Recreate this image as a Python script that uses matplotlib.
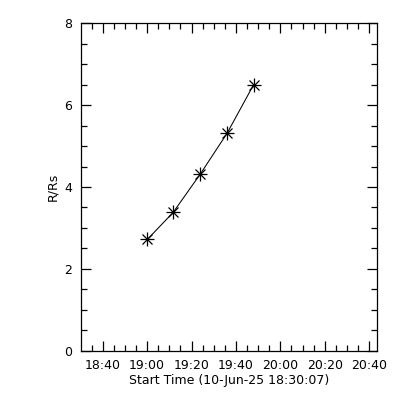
import matplotlib
matplotlib.use("Agg")
import matplotlib.pyplot as plt
from matplotlib.ticker import FixedLocator, MultipleLocator

# Data: seconds since start time 18:30:07
start_label = "Start Time (10-Jun-25 18:30:07)"
start_sec = 18 * 3600 + 30 * 60 + 7
times = ["19:00:07", "19:11:43", "19:23:52", "19:35:59", "19:47:59"]
heights = [2.72, 3.38, 4.31, 5.31, 6.50]
tick_labels = ["18:40", "19:00", "19:20", "19:40", "20:00", "20:20", "20:40"]


def to_sec(s):
    parts = [int(p) for p in s.split(":")]
    while len(parts) < 3:
        parts.append(0)
    return parts[0] * 3600 + parts[1] * 60 + parts[2] - start_sec


x = [to_sec(t) for t in times]
major = [to_sec(t) for t in tick_labels]
minor = [to_sec("18:35") + 300 * i for i in range(0, 27)]

plt.rcParams["font.family"] = "DejaVu Sans"
fig = plt.figure(figsize=(4, 4), dpi=100)
ax = fig.add_axes([0.202, 0.123, 0.740, 0.819])

ax.plot(x, heights, color="black", lw=0.75)
ax.plot(x, heights, ls="none", marker="x", ms=7, mew=0.9, color="black")
ax.plot(x, heights, ls="none", marker="+", ms=10, mew=0.9, color="black")

ax.set_xlim(0, 8000)
ax.set_ylim(0, 8)
ax.xaxis.set_major_locator(FixedLocator(major))
ax.set_xticklabels(tick_labels)
ax.xaxis.set_minor_locator(FixedLocator([m for m in minor if m not in major]))
ax.yaxis.set_major_locator(MultipleLocator(2))
ax.yaxis.set_minor_locator(MultipleLocator(0.5))

ax.tick_params(which="both", direction="in", top=True, right=True,
               width=0.9, labelsize=9, colors="black")
ax.tick_params(which="major", length=7, pad=6)
ax.tick_params(which="minor", length=4)
for s in ax.spines.values():
    s.set_linewidth(0.9)

ax.set_xlabel(start_label, fontsize=9, labelpad=1)
ax.set_ylabel("R/Rs", fontsize=9, labelpad=4)

fig.savefig("out.png", dpi=100)
